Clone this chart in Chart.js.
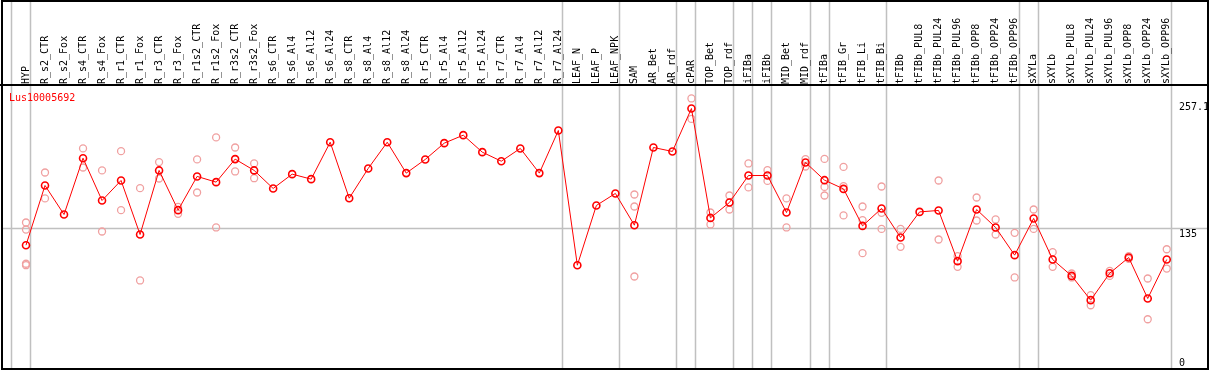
<!DOCTYPE html>
<html>
<head>
<meta charset="utf-8">
<script src="https://cdn.jsdelivr.net/npm/chart.js@4.4.1/dist/chart.umd.min.js"></script>
<style>
  html, body { margin: 0; padding: 0; background: #fff; }
</style>
</head>
<body>
<canvas id="chart" width="1209" height="370"></canvas>
<script>
// Sample names, in plot order
const labels = [
  "HYP", "R_s2_CTR", "R_s2_Fox", "R_s4_CTR", "R_s4_Fox", "R_r1_CTR", "R_r1_Fox",
  "R_r3_CTR", "R_r3_Fox", "R_r1s2_CTR", "R_r1s2_Fox", "R_r3s2_CTR", "R_r3s2_Fox",
  "R_s6_CTR", "R_s6_Al4", "R_s6_Al12", "R_s6_Al24", "R_s8_CTR", "R_s8_Al4", "R_s8_Al12",
  "R_s8_Al24", "R_r5_CTR", "R_r5_Al4", "R_r5_Al12", "R_r5_Al24", "R_r7_CTR", "R_r7_Al4",
  "R_r7_Al12", "R_r7_Al24", "LEAF_N", "LEAF_P", "LEAF_NPK", "SAM", "AR_Bet", "AR_rdf",
  "cPAR", "TOP_Bet", "TOP_rdf", "iFIBa", "iFIBb", "MID_Bet", "MID_rdf", "tFIBa",
  "tFIB_Gr", "tFIB_Li", "tFIB_Bi", "tFIBb", "tFIBb_PUL8", "tFIBb_PUL24", "tFIBb_PUL96",
  "tFIBb_OPP8", "tFIBb_OPP24", "tFIBb_OPP96", "sXYLa", "sXYLb", "sXYLb_PUL8",
  "sXYLb_PUL24", "sXYLb_PUL96", "sXYLb_OPP8", "sXYLb_OPP24", "sXYLb_OPP96"
];

// Mean expression per sample (the red line)
const means = [
  118.9, 176.5, 148.5, 202.8, 162.0, 181.3, 129.2, 191.0, 152.7, 185.2, 179.7, 201.9,
  191.0, 173.6, 187.4, 182.6, 218.2, 164.2, 192.9, 218.2, 188.4, 201.6, 217.3, 225.0,
  208.6, 199.9, 212.2, 188.4, 229.5, 99.6, 157.2, 168.8, 138.2, 213.1, 209.3, 250.7,
  145.2, 160.1, 186.1, 186.1, 150.4, 198.7, 181.6, 173.2, 137.5, 154.3, 126.3, 151.0,
  152.4, 103.5, 153.3, 136.0, 109.3, 144.7, 105.1, 89.3, 65.9, 91.9, 107.0, 67.5, 105.1
];

// Individual replicates (light circles); empty = hidden under the mean
const replicates = [
  [140.8, 134.0, 101.0, 99.6], [189.0, 164.0], [], [212.2, 193.8], [191.0, 132.1],
  [209.6, 152.7], [173.9, 84.9], [199.0, 183.2], [155.8, 149.1], [201.6, 169.7],
  [222.8, 136.0], [213.1, 190.0], [197.7, 183.5], [], [], [], [], [], [], [], [], [],
  [], [], [], [], [], [], [], [], [], [], [167.8, 156.2, 88.7], [], [],
  [260.4, 240.7], [150.4, 138.9], [166.8, 153.3], [197.7, 174.6], [191.2, 180.9],
  [164.0, 136.0], [201.9, 194.8], [202.1, 175.1, 166.8], [194.4, 175.8, 147.6],
  [156.2, 143.0, 111.2], [175.5, 150.1, 134.6], [134.6, 117.3], [], [181.3, 124.4],
  [108.3, 98.0], [164.9, 142.7], [143.7, 129.2], [130.8, 87.8], [153.3, 134.6],
  [112.2, 98.0], [91.6, 87.8], [70.7, 61.0], [94.1, 89.3], [108.3, 105.7],
  [86.8, 47.5], [115.0, 96.4]
];

// Index of the last sample in each tissue group (-1 = before the first)
const groupEnds = [-1, 0, 28, 31, 34, 35, 37, 38, 39, 41, 42, 45, 52, 53, 60];

// Right-hand axis labels and the reference line
const yTickValues = [0, 135, 257.1];
const refLine = 135;
const geneName = "Lus10005692";

const MONO = "'DejaVu Sans Mono', monospace";

const meanPoints = means.map((v, i) => ({ x: i, y: v }));
const repPoints = [];
replicates.forEach((list, i) => list.forEach(v => repPoints.push({ x: i, y: v })));

// Group separators, reference line, frame and texts
const decorations = {
  id: "decorations",
  beforeDraw(chart) {
    const ctx = chart.ctx;
    const xs = chart.scales.x, ys = chart.scales.y;
    const area = chart.chartArea;
    ctx.save();
    ctx.strokeStyle = "#c0c0c0";
    ctx.lineWidth = 1.5;
    groupEnds.forEach(i => {
      const px = Math.round(xs.getPixelForValue(i)) + 4.5;
      ctx.beginPath();
      ctx.moveTo(px, 0);
      ctx.lineTo(px, area.bottom);
      ctx.stroke();
    });
    const py = Math.round(ys.getPixelForValue(refLine)) + 0.5;
    ctx.beginPath();
    ctx.moveTo(area.left, py);
    ctx.lineTo(area.right, py);
    ctx.stroke();
    ctx.restore();
  },
  afterDraw(chart) {
    const ctx = chart.ctx;
    const ys = chart.scales.y;
    const area = chart.chartArea;
    ctx.save();
    // outer frame and divider under the labels
    ctx.strokeStyle = "#000";
    ctx.lineWidth = 2;
    ctx.strokeRect(2, 1, chart.width - 3, chart.height - 2);
    ctx.beginPath();
    ctx.moveTo(0, area.top - 1);
    ctx.lineTo(chart.width, area.top - 1);
    ctx.stroke();
    // gene name
    ctx.font = "10px " + MONO;
    ctx.fillStyle = "#ff0000";
    ctx.textBaseline = "alphabetic";
    ctx.textAlign = "left";
    ctx.fillText(geneName, area.left + 7, area.top + 15);
    // y tick labels
    ctx.fillStyle = "#000";
    yTickValues.forEach(v => {
      const py = Math.min(ys.getPixelForValue(v) + 8.5, area.bottom - 2.5);
      ctx.fillText(String(v), area.right - 29, py);
    });
    ctx.restore();
  }
};

new Chart(document.getElementById("chart"), {
  type: "line",
  data: {
    datasets: [
      {
        label: "mean",
        data: meanPoints,
        borderColor: "#ff0000",
        borderWidth: 1,
        pointRadius: 3.5,
        pointBorderWidth: 1.6,
        pointBorderColor: "#ff0000",
        pointBackgroundColor: "rgba(0,0,0,0)",
        tension: 0,
        order: 0
      },
      {
        label: "replicates",
        data: repPoints,
        showLine: false,
        pointRadius: 3.5,
        pointBorderWidth: 1.3,
        pointBorderColor: "#f0a0a0",
        pointBackgroundColor: "rgba(0,0,0,0)",
        order: 1
      }
    ]
  },
  options: {
    responsive: false,
    animation: false,
    layout: { autoPadding: false, padding: { left: 2, right: 1, top: 0, bottom: 1.5 } },
    plugins: { legend: { display: false }, tooltip: { enabled: false } },
    scales: {
      x: {
        type: "linear",
        position: "top",
        min: -1.262,
        max: 62.17,
        grid: { display: false, drawTicks: false },
        border: { display: false },
        afterBuildTicks: scale => { scale.ticks = labels.map((l, i) => ({ value: i })); },
        afterFit: scale => {
          scale.height = 86;
          scale.paddingLeft = 0;
          scale.paddingRight = 0;
        },
        ticks: {
          autoSkip: false,
          minRotation: 90,
          maxRotation: 90,
          padding: 2,
          labelOffset: 12,
          color: "#000",
          font: { family: MONO, size: 10 },
          callback: value => labels[value]
        }
      },
      y: {
        display: false,
        min: 0,
        max: 272.4
      }
    }
  },
  plugins: [decorations]
});
</script>
</body>
</html>
